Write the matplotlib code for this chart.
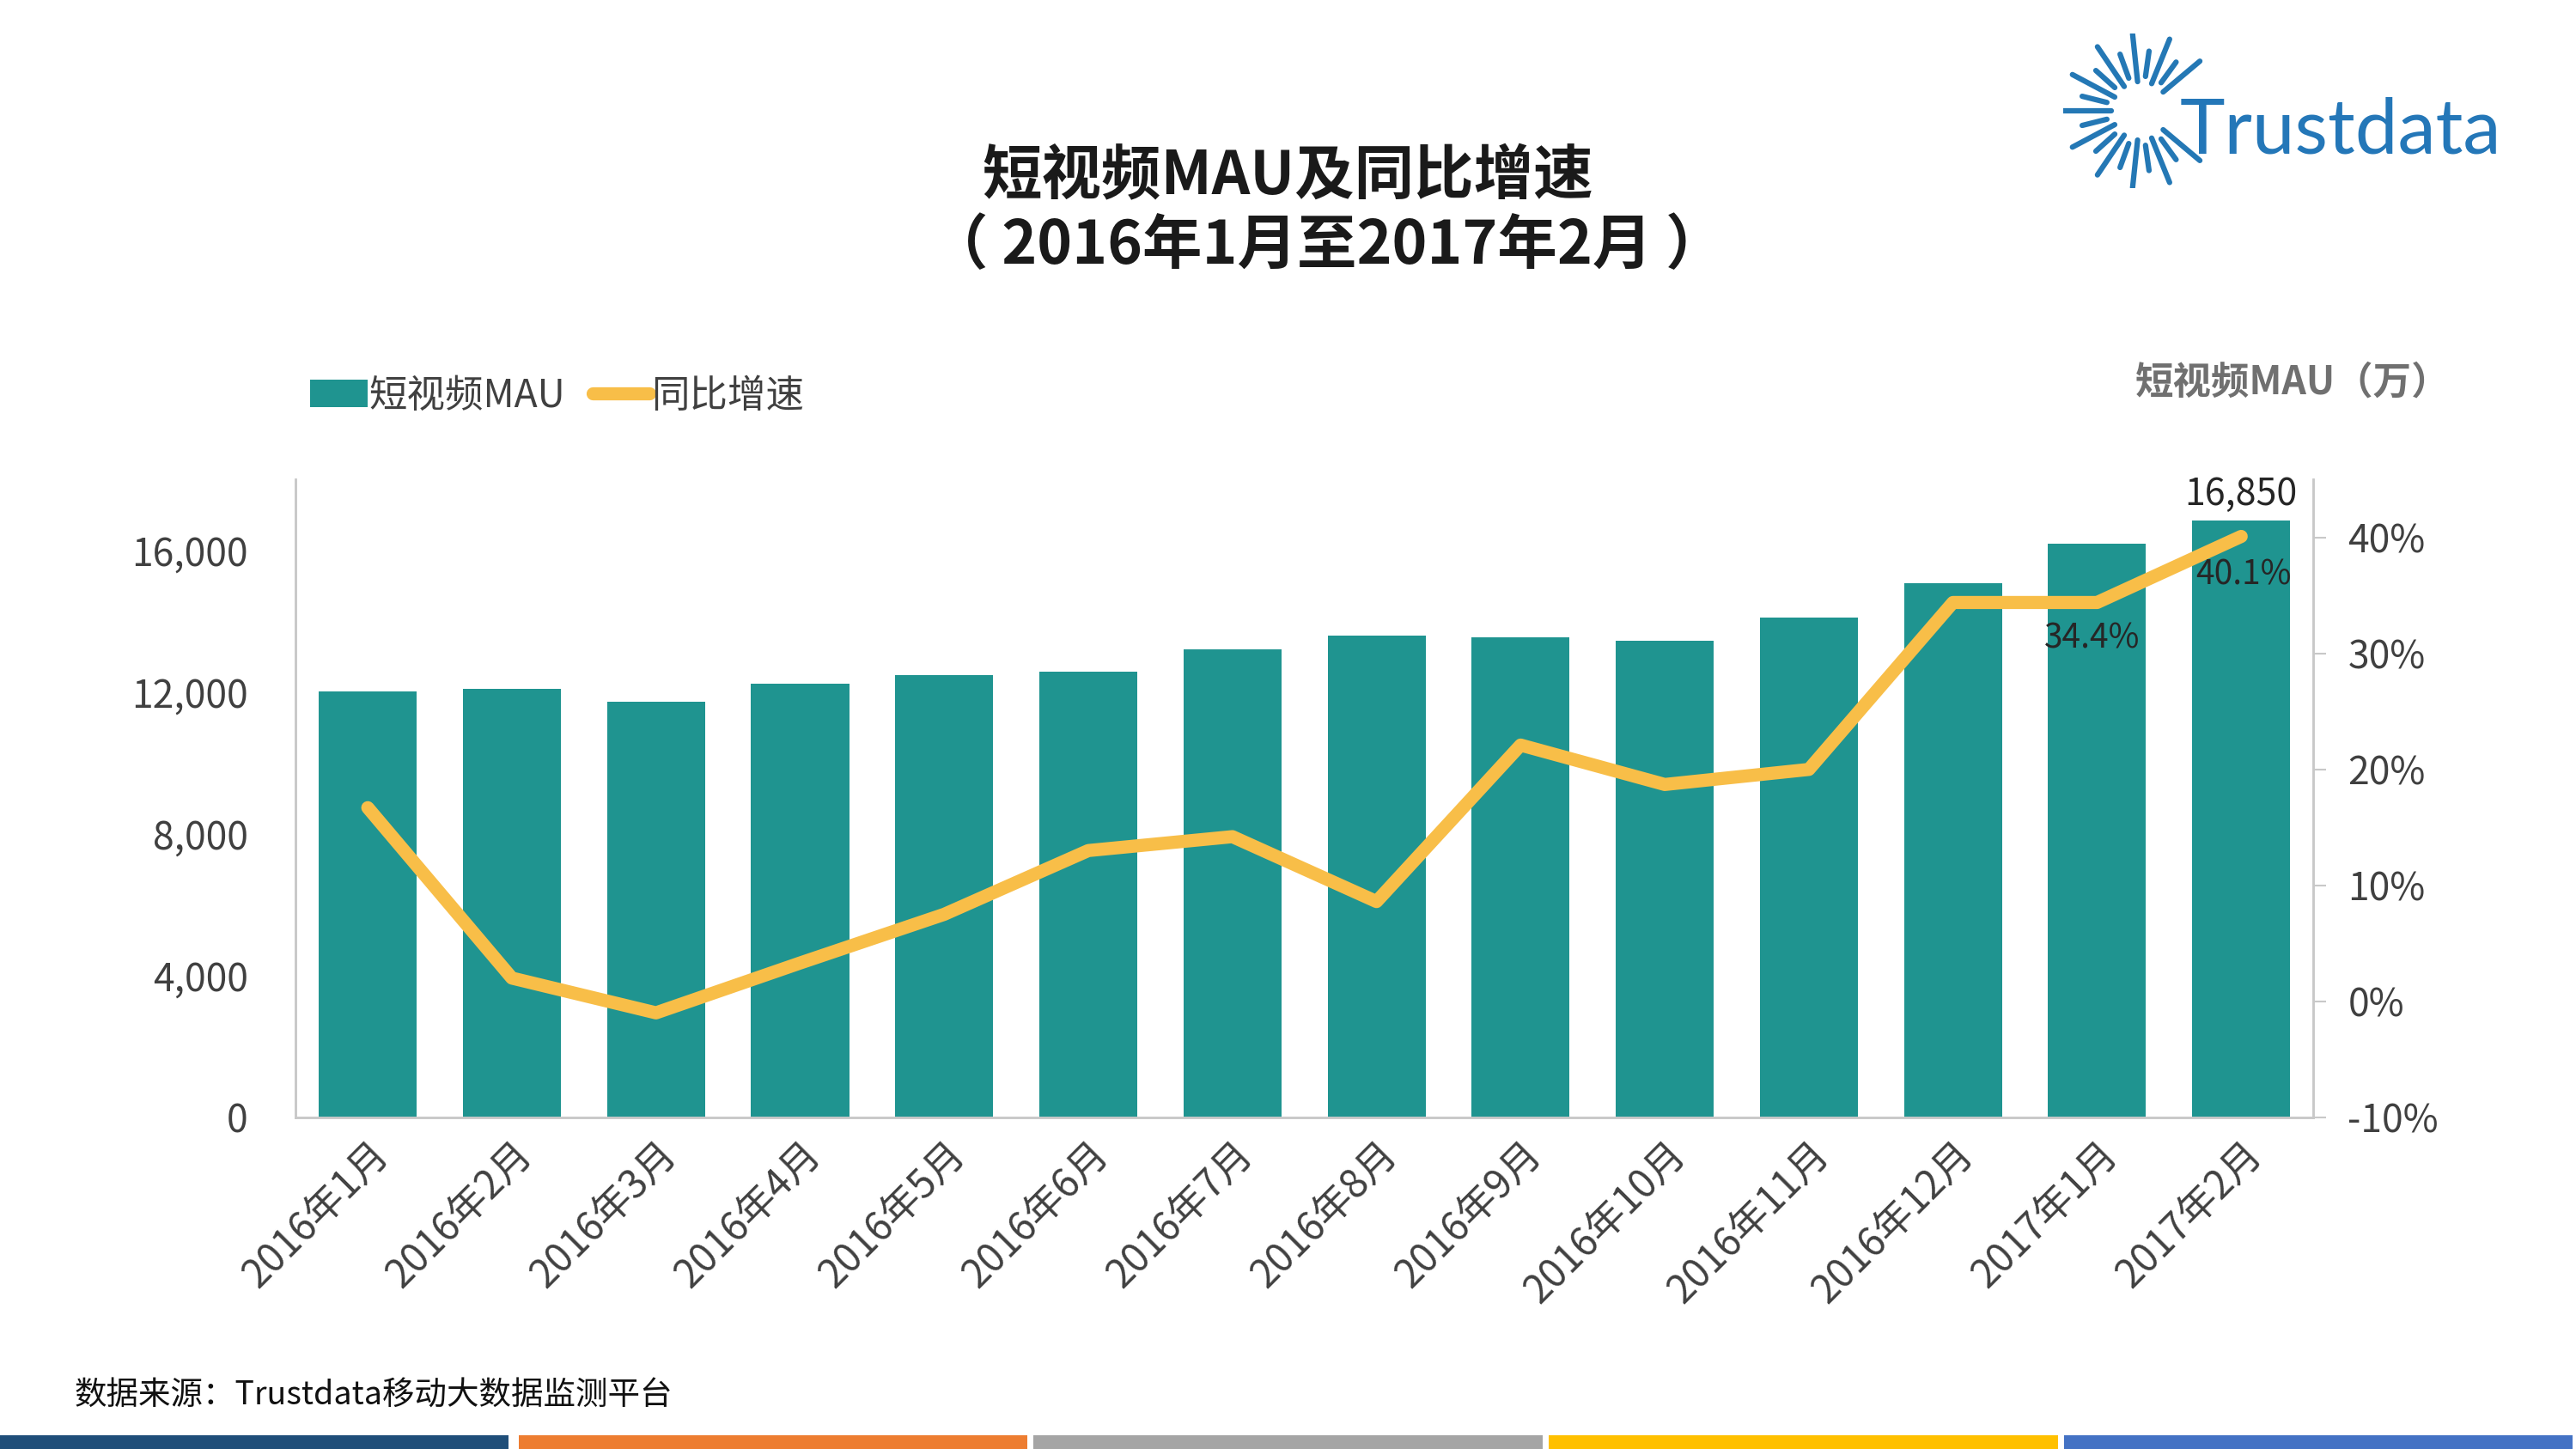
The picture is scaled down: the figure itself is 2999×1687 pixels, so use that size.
import numpy as np
import matplotlib
matplotlib.use("Agg")
from matplotlib import pyplot as plt
from matplotlib.lines import Line2D
from matplotlib.patches import Patch

plt.rcParams['font.family'] = ['Noto Sans CJK SC', 'DejaVu Sans']

# ── data ────────────────────────────────────────────────────────────────────
months = ["2016年1月", "2016年2月", "2016年3月", "2016年4月", "2016年5月",
          "2016年6月", "2016年7月", "2016年8月", "2016年9月", "2016年10月",
          "2016年11月", "2016年12月", "2017年1月", "2017年2月"]
mau = [12010, 12100, 11740, 12250, 12480, 12570, 13220, 13590,
       13550, 13450, 14100, 15070, 16190, 16850]
yoy = [16.7, 2.0, -1.0, 3.3, 7.5, 13.0, 14.2, 8.6,
       22.1, 18.7, 20.0, 34.4, 34.4, 40.1]
mau_ticks = [0, 4000, 8000, 12000, 16000]
yoy_ticks = [-10, 0, 10, 20, 30, 40]

BAR = "#1F9490"
LINE = "#F8BE48"
TXT = "#404040"
SPINE = "#C8C8C8"

fig = plt.figure(figsize=(29.99, 16.87), dpi=100)
fig.patch.set_facecolor("white")
ax = fig.add_axes([0.1148, 0.229, 0.7832, 0.440])
ax2 = ax.twinx()

x = np.arange(len(months))
ax.bar(x, mau, width=0.68, color=BAR, zorder=2)
ax2.plot(x, yoy, color=LINE, lw=11, solid_capstyle="round",
         solid_joinstyle="round", zorder=3)

ax.set_xlim(-0.5, len(months) - 0.5)
ax.set_ylim(0, 18000)
ax2.set_ylim(-10, 45)

ax.set_yticks(mau_ticks)
ax.set_yticklabels([f"{v:,}" for v in mau_ticks])
ax2.set_yticks(yoy_ticks)
ax2.set_yticklabels([f"{v}%" for v in yoy_ticks])
ax.set_xticks(x)
ax.set_xticklabels(months, rotation=45, ha="right", rotation_mode="anchor")

ax.tick_params(axis="y", length=0, pad=40, labelsize=32, labelcolor=TXT)
ax.tick_params(axis="x", length=0, pad=14, labelsize=33, labelcolor=TXT)
ax2.tick_params(axis="y", length=11, width=1.5, color=SPINE, pad=18,
                labelsize=32, labelcolor=TXT)

for a in (ax, ax2):
    a.spines["top"].set_visible(False)
    for s in ("left", "right", "bottom"):
        a.spines[s].set_color(SPINE)
        a.spines[s].set_linewidth(1.8)

# data labels
ax.annotate(f"{mau[-1]:,}", (x[-1], mau[-1]), xytext=(0, 6), textcoords="offset points",
            ha="center", va="bottom", fontsize=31, color="#262626")
ax2.annotate(f"{yoy[12]}%", (x[12], yoy[12]), xytext=(-4, -16), textcoords="offset points",
             ha="center", va="top", fontsize=28, color="#262626")
ax2.annotate(f"{yoy[13]}%", (x[13], yoy[13]), xytext=(2, -18), textcoords="offset points",
             ha="center", va="top", fontsize=28, color="#262626")

# legend
handles = [Patch(facecolor=BAR, edgecolor="none"),
           Line2D([0], [0], color=LINE, lw=11, solid_capstyle="round")]
fig.legend(handles, ["短视频MAU", "同比增速"], loc="center left",
           bbox_to_anchor=(0.107, 0.727), ncol=2, frameon=False,
           fontsize=32, labelcolor=TXT, handlelength=1.5, handleheight=0.7,
           handletextpad=0.05, columnspacing=0.7)

# titles and notes
fig.text(0.500, 0.878, "短视频MAU及同比增速", ha="center", va="center",
         fontsize=50, fontweight="bold", color="#1A1A1A")
fig.text(0.515, 0.830, "（ 2016年1月至2017年2月 ）", ha="center", va="center",
         fontsize=50, fontweight="bold", color="#1A1A1A")
fig.text(0.951, 0.736, "短视频MAU（万）", ha="right", va="center",
         fontsize=32, fontweight="bold", color="#707070")
fig.text(0.029, 0.037, "数据来源：Trustdata移动大数据监测平台", ha="left", va="center",
         fontsize=27, color="#111111")

# bottom colour stripes
stripe_cols = ["#1F4E79", "#ED7D31", "#A5A5A5", "#FFC000", "#4472C4"]
for i, c in enumerate(stripe_cols):
    fig.add_artist(plt.Rectangle((i * 0.2 + (0.0013 if i else 0), 0.0),
                                 0.1975, 0.0095, transform=fig.transFigure,
                                 color=c, lw=0))

# logo: sunburst + wordmark
lax = fig.add_axes([0.801, 0.870, 0.060, 0.107])
lax.set_xlim(-1, 1)
lax.set_ylim(-1, 1)
lax.set_aspect("equal")
lax.axis("off")
angs = np.deg2rad(np.arange(40, 330, 14))
for k, a in enumerate(angs):
    r0, r1 = (0.38, 1.0) if k % 2 == 0 else (0.45, 0.78)
    lax.plot([r0 * np.cos(a), r1 * np.cos(a)], [r0 * np.sin(a), r1 * np.sin(a)],
             color="#2478B5", lw=4.5, solid_capstyle="round")
fig.text(0.846, 0.909, "Trustdata", ha="left", va="center", fontsize=64,
         family="Lato", color="#2477B8")

fig.savefig("out.png", dpi=100, facecolor="white")
